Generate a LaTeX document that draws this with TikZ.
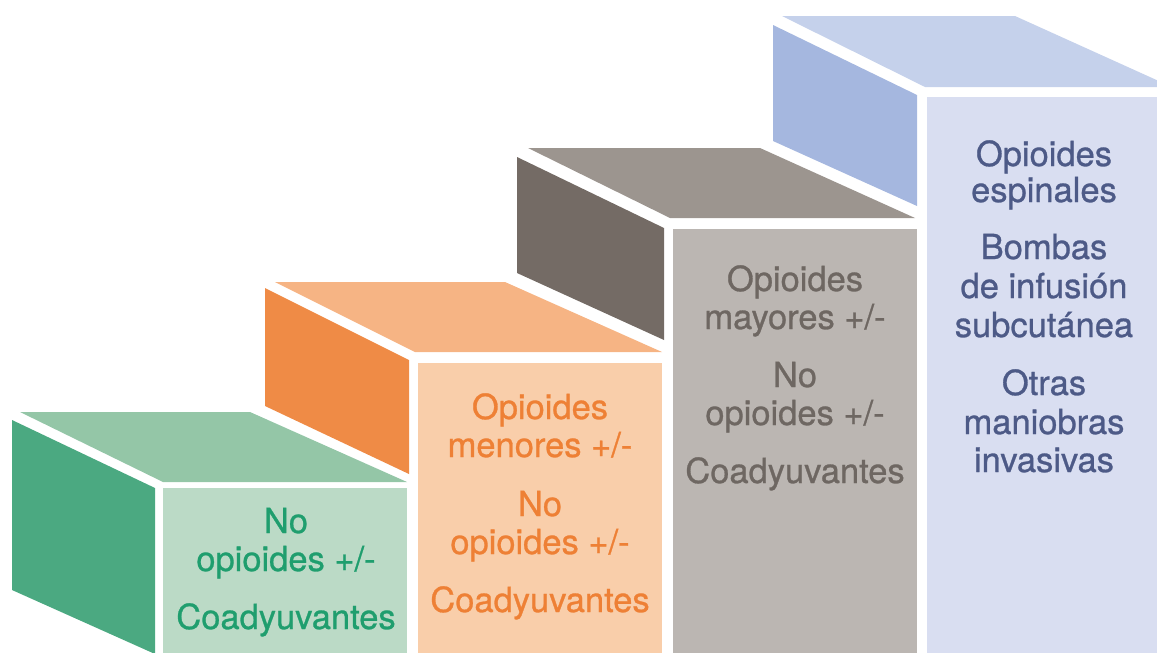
\documentclass[tikz,border=0pt]{standalone}
\usepackage{fontspec}
\setmainfont{TeX Gyre Heros}[FakeBold=0.8]
\definecolor{gside}{HTML}{4BA981}
\definecolor{gtop}{HTML}{94C6A7}
\definecolor{gfront}{HTML}{BBDAC6}
\definecolor{gtext}{HTML}{1F9E6E}
\definecolor{oside}{HTML}{EF8B46}
\definecolor{otop}{HTML}{F6B484}
\definecolor{ofront}{HTML}{F9CEAA}
\definecolor{otext}{HTML}{EE8035}
\definecolor{rside}{HTML}{746B65}
\definecolor{rtop}{HTML}{9C958F}
\definecolor{rfront}{HTML}{BBB6B2}
\definecolor{rtext}{HTML}{6E6762}
\definecolor{bside}{HTML}{A5B7DF}
\definecolor{btop}{HTML}{C5D1EB}
\definecolor{bfront}{HTML}{D9DEF1}
\definecolor{btext}{HTML}{4D5A87}
\begin{document}
\begin{tikzpicture}[x=1pt,y=-1pt,
  lbl/.style={anchor=base, font=\fontsize{34.5}{38}\selectfont, inner sep=0pt}]
\useasboundingbox (0,0) rectangle (1157,653);
\clip (0,0) rectangle (1157,653);
% step 1 (green)
\fill[gtop] (20,412) -- (250,412) -- (407,482) -- (163,482) -- cycle;
\fill[gside] (12,420) -- (155,488) -- (155,654) -- (12,590) -- cycle;
\fill[gfront] (163,488) rectangle (407,660);
% step 2 (orange)
\fill[otop] (275,282) -- (505,282) -- (662,352) -- (415,352) -- cycle;
\fill[oside] (265,288) -- (409,360) -- (409,474) -- (265,406) -- cycle;
\fill[ofront] (418,363) rectangle (662,660);
% step 3 (gray)
\fill[rtop] (528,148) -- (760,148) -- (915,218) -- (670,218) -- cycle;
\fill[rside] (517,157) -- (664,228) -- (664,340) -- (517,273) -- cycle;
\fill[rfront] (673,229) rectangle (917,660);
% step 4 (blue)
\fill[btop] (782,16) -- (1015,16) -- (1172,87) -- (925,87) -- cycle;
\fill[bside] (773,25) -- (917,95) -- (917,206) -- (773,141) -- cycle;
\fill[bfront] (927,97) rectangle (1171,660);
% texts step 1
\begin{scope}[every node/.style={lbl, text=gtext}]
\node (g1) at (286,533) {No};
\node (g2) at (286,571) {opioides +/-};
\node (g3) at (286,629) {Coadyuvantes};
\end{scope}
\begin{scope}[every node/.style={lbl, text=otext}]
\node (o1) at (540,419) {Opioides};
\node (o2) at (540,457) {menores +/-};
\node (o3) at (540,516) {No};
\node (o4) at (540,554) {opioides +/-};
\node (o5) at (540,612) {Coadyuvantes};
\end{scope}
\begin{scope}[every node/.style={lbl, text=rtext}]
\node (r1) at (795,291) {Opioides};
\node (r2) at (795,329) {mayores +/-};
\node (r3) at (795,387) {No};
\node (r4) at (795,425) {opioides +/-};
\node (r5) at (795,483) {Coadyuvantes};
\end{scope}
\begin{scope}[every node/.style={lbl, text=btext}]
\node (b1) at (1044,166) {Opioides};
\node (b2) at (1044,202) {espinales};
\node (b3) at (1044,259) {Bombas};
\node (b4) at (1044,298) {de infusión};
\node (b5) at (1044,337) {subcutánea};
\node (b6) at (1044,395) {Otras};
\node (b7) at (1044,434) {maniobras};
\node (b8) at (1044,472) {invasivas};
\end{scope}
\end{tikzpicture}
\end{document}
